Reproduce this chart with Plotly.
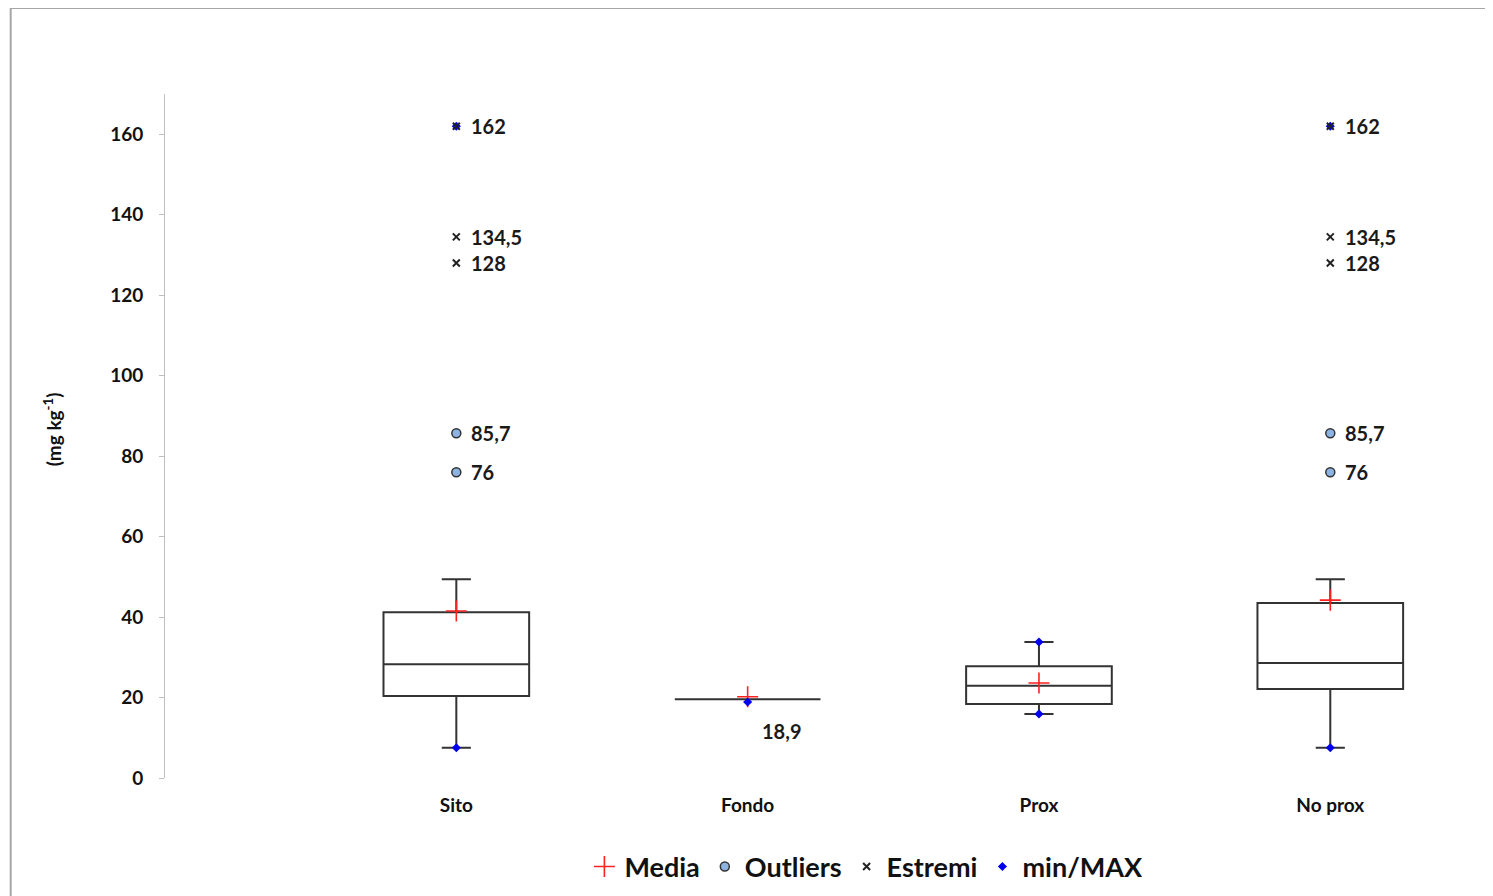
import plotly.graph_objects as go

categories = ["Sito", "Fondo", "Prox", "No prox"]
positions = [0, 1, 2, 3]
lower = [7.5, 19.6, 15.9, 7.5]
q1 = [20.4, 19.6, 18.4, 22.1]
median = [28.3, 19.6, 22.9, 28.6]
q3 = [41.2, 19.6, 27.8, 43.5]
upper = [49.4, 19.6, 33.8, 49.4]
mean = [41.5, 20.2, 23.6, 44.2]

outlier_x = [0, 0, 3, 3]
outlier_y = [85.7, 76, 85.7, 76]
extreme_x = [0, 0, 0, 3, 3, 3]
extreme_y = [162, 134.5, 128, 162, 134.5, 128]
minmax_x = [0, 0, 1, 2, 2, 3, 3]
minmax_y = [7.5, 162, 18.9, 15.9, 33.8, 7.5, 162]

label_x = [0, 0, 0, 0, 0, 3, 3, 3, 3, 3]
label_y = [162, 134.5, 128, 85.7, 76, 162, 134.5, 128, 85.7, 76]
label_text = ["162", "134,5", "128", "85,7", "76", "162", "134,5", "128", "85,7", "76"]
fondo_label = "18,9"
fondo_label_y = 18.9

FONT = "Lato"

fig = go.Figure()
fig.add_trace(go.Box(
    x=positions, q1=q1, median=median, q3=q3, lowerfence=lower, upperfence=upper,
    width=0.5, whiskerwidth=0.2, boxpoints=False, fillcolor="white",
    line=dict(color="#333333", width=2), showlegend=False, hoverinfo="skip"))

fig.add_trace(go.Scatter(x=positions, y=mean, mode="markers", name="Media", legendrank=1,
    marker=dict(symbol="cross-thin-open", size=15, color="#ff2020",
                line=dict(color="#ff2020", width=1.6))))
fig.add_trace(go.Scatter(x=outlier_x, y=outlier_y, mode="markers", name="Outliers", legendrank=2,
    marker=dict(symbol="circle", size=9, color="#8db3e2", line=dict(color="#333333", width=1.5))))
fig.add_trace(go.Scatter(x=minmax_x, y=minmax_y, mode="markers", name="min/MAX", legendrank=4,
    marker=dict(symbol="diamond", size=7, color="#0000ee")))
fig.add_trace(go.Scatter(x=extreme_x, y=extreme_y, mode="markers", name="Estremi", legendrank=3,
    marker=dict(symbol="x-thin-open", size=7, color="#222222",
                line=dict(color="#222222", width=2))))

for xv, yv, t in zip(label_x, label_y, label_text):
    fig.add_annotation(x=xv, y=yv, text=t, showarrow=False, xanchor="left", yanchor="middle",
                       xshift=13, font=dict(family=FONT, size=20, color="#1a1a1a", weight="bold"))
fig.add_annotation(x=1, y=fondo_label_y, text=fondo_label, showarrow=False, xanchor="left",
                   yanchor="middle", xshift=12, yshift=-29,
                   font=dict(family=FONT, size=20, color="#1a1a1a", weight="bold"))

fig.add_annotation(x=-0.0845, y=0.51, xref="paper", yref="paper", text="(mg kg<sup>-1</sup>)",
                   textangle=-90, showarrow=False, xanchor="center", yanchor="middle",
                   font=dict(family=FONT, size=19, color="#111111", weight="bold"))

# outer border
bx, by_top, by_bot = -0.1155, 1.1257, -0.2
fig.add_shape(type="line", xref="paper", yref="paper", x0=bx, x1=bx, y0=by_bot, y1=by_top,
              line=dict(color="#a6a6a6", width=2))
fig.add_shape(type="line", xref="paper", yref="paper", x0=bx, x1=1.05, y0=by_top, y1=by_top,
              line=dict(color="#a6a6a6", width=2))

fig.update_layout(
    width=1493, height=896,
    margin=dict(l=157, r=0, t=86, b=126),
    plot_bgcolor="white", paper_bgcolor="white",
    font=dict(family=FONT, color="#111111"),
    legend=dict(orientation="h", x=0.525, xanchor="center", y=-0.13, yanchor="middle",
                font=dict(family=FONT, size=27, color="#111111", weight="bold"),
                itemwidth=30, tracegroupgap=0, traceorder="normal"),
    xaxis=dict(range=[-1, 3.586], tickmode="array", tickvals=positions, ticktext=categories,
               showline=False, showgrid=False, zeroline=False, ticks="", ticklabelstandoff=14,
               tickfont=dict(family=FONT, size=19, color="#111111", weight="bold")),
    yaxis=dict(range=[0, 170], tickmode="array", tickvals=list(range(0, 161, 20)),
               showline=True, linecolor="#bfbfbf", linewidth=1, showgrid=False, zeroline=False,
               ticks="outside", ticklen=5, tickcolor="#bfbfbf", ticklabelstandoff=12,
               tickfont=dict(family=FONT, size=19, color="#111111", weight="bold")),
)

fig.write_html("out.html")
